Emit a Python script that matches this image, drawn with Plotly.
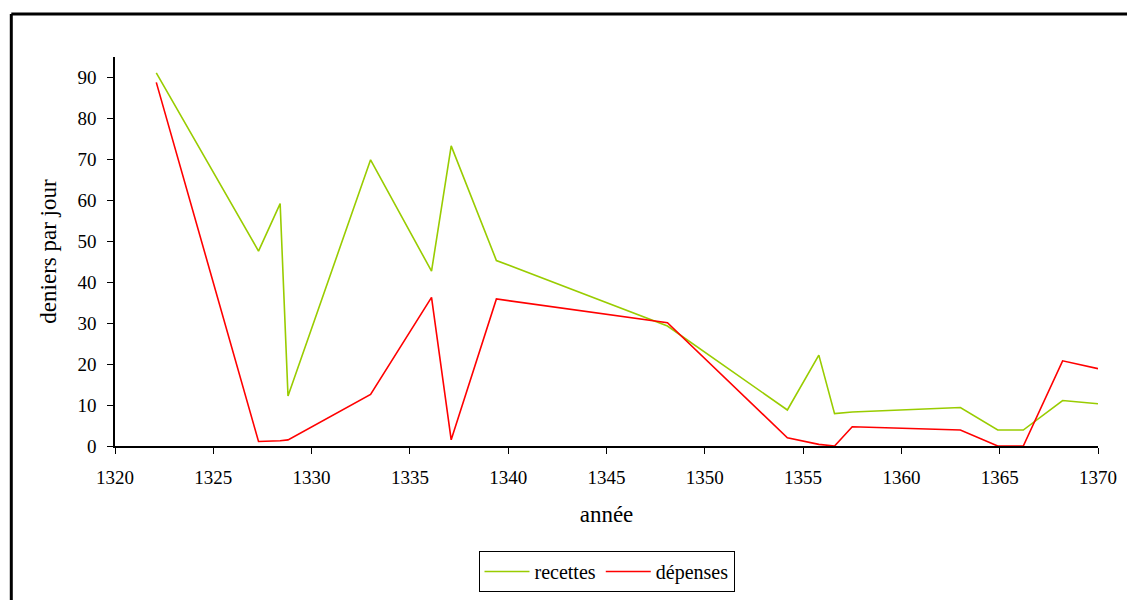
import plotly.graph_objects as go

# années
annees = [1322.1, 1327.3, 1328.4, 1328.8, 1333.0, 1336.1, 1337.1, 1339.4,
          1348.1, 1354.2, 1355.8, 1356.6, 1357.5, 1363.0, 1364.9, 1366.2,
          1368.2, 1370.0]
recettes = [91.1, 47.6, 59.2, 12.2, 69.9, 42.7, 73.3, 45.3,
            29.3, 8.8, 22.2, 7.9, 8.3, 9.4, 3.9, 3.9,
            11.1, 10.3]
depenses = [88.8, 1.1, 1.3, 1.5, 12.6, 36.3, 1.5, 35.9,
            30.1, 2.0, 0.4, 0.0, 4.7, 3.9, 0.0, 0.0,
            20.8, 18.9]

VERT = "#99CC00"
ROUGE = "#FF0000"
FONT = "Liberation Serif"

fig = go.Figure()
fig.add_trace(go.Scatter(x=annees, y=recettes, mode="lines", name="recettes",
                         line=dict(color=VERT, width=1.6)))
fig.add_trace(go.Scatter(x=annees, y=depenses, mode="lines", name="dépenses",
                         line=dict(color=ROUGE, width=1.6)))

# cadre noir autour du graphique
fig.add_shape(type="line", xref="paper", yref="paper",
              x0=-0.1055, x1=1.2, y0=1.1105, y1=1.1105,
              line=dict(color="black", width=3))
fig.add_shape(type="line", xref="paper", yref="paper",
              x0=-0.1055, x1=-0.1055, y0=1.1105, y1=-0.6,
              line=dict(color="black", width=3))

fig.update_layout(
    width=1135, height=600,
    margin=dict(l=107, r=45, t=49, b=162),
    plot_bgcolor="white", paper_bgcolor="white",
    font=dict(family=FONT, size=19, color="black"),
    showlegend=True,
    legend=dict(orientation="h", x=0.5, xanchor="center", y=-0.27, yanchor="top",
                bordercolor="black", borderwidth=1, font=dict(size=20),
                itemwidth=45, tracegroupgap=0),
)

fig.update_xaxes(
    range=[1320, 1370], tick0=1320, dtick=5,
    showgrid=False, zeroline=False,
    showline=True, linecolor="black", linewidth=1.5,
    ticks="outside", ticklen=6, tickcolor="black",
    ticklabelstandoff=7,
    title=dict(text="année", standoff=19),
)
fig.update_yaxes(
    range=[0, 95], tick0=0, dtick=10,
    showgrid=False, zeroline=False,
    showline=True, linecolor="black", linewidth=1.5,
    ticks="outside", ticklen=6, tickcolor="black",
    ticklabelstandoff=7,
    title=dict(text="deniers par jour", standoff=14),
)

fig.write_html("out.html")
